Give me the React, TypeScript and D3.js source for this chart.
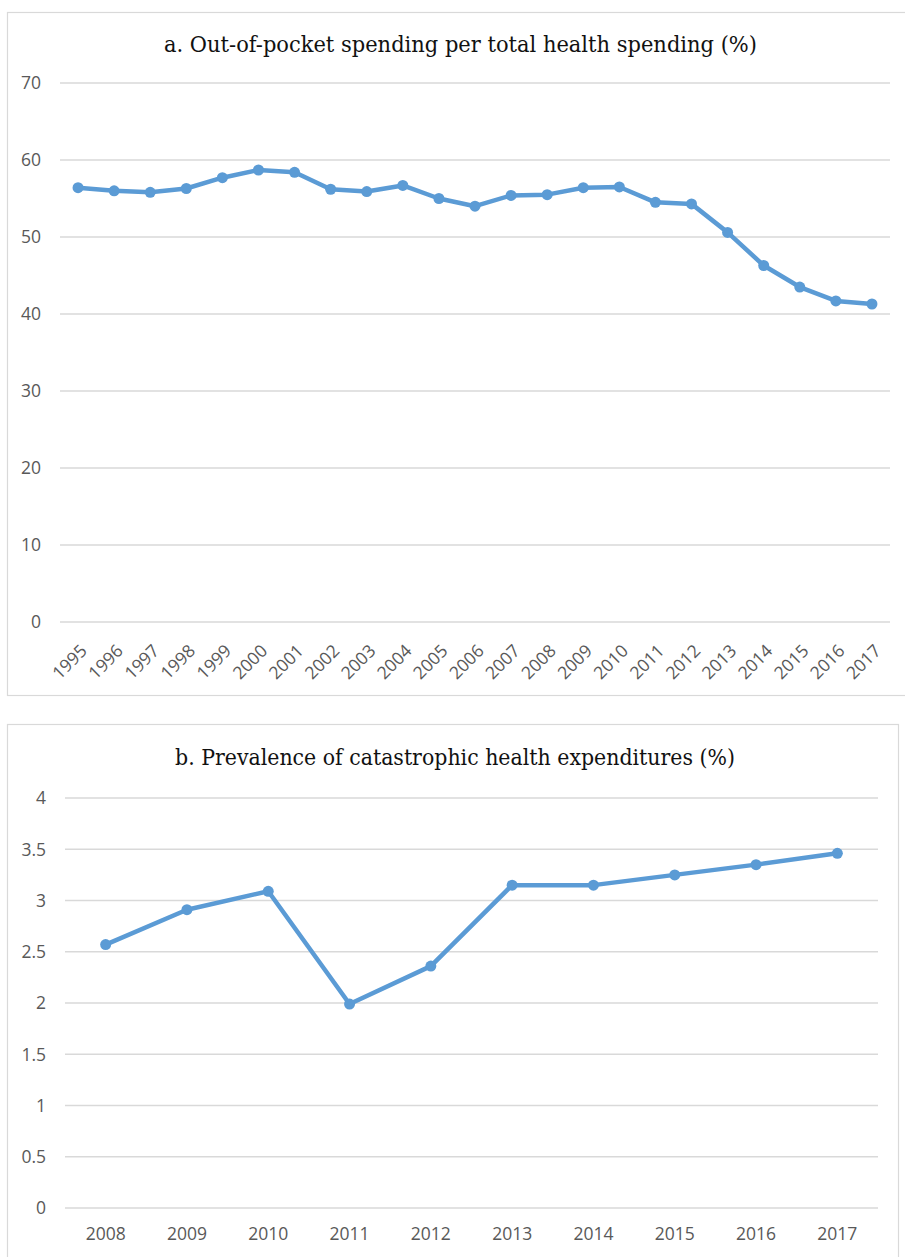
import * as d3 from 'd3'
import { useEffect, useRef } from 'react'

const WIDTH = 905
const HEIGHT = 1257
const LINE_COLOR = '#5b9bd5'
const GRID_COLOR = '#d9d9d9'
const LABEL_COLOR = '#595959'
const AXIS_FONT = '"Open Sans", "Liberation Sans", sans-serif'
const TITLE_FONT = '"DejaVu Serif", "Liberation Serif", serif'

// Panel a: out-of-pocket share of total health spending
const oopYears = [
  '1995', '1996', '1997', '1998', '1999', '2000', '2001', '2002', '2003', '2004', '2005', '2006',
  '2007', '2008', '2009', '2010', '2011', '2012', '2013', '2014', '2015', '2016', '2017',
]
const oopValues = [
  56.4, 56.0, 55.8, 56.3, 57.7, 58.7, 58.4, 56.2, 55.9, 56.7, 55.0, 54.0,
  55.4, 55.5, 56.4, 56.5, 54.5, 54.3, 50.6, 46.3, 43.5, 41.7, 41.3,
]
const oopTicks = [0, 10, 20, 30, 40, 50, 60, 70]

// Panel b: catastrophic health expenditure prevalence
const cheYears = ['2008', '2009', '2010', '2011', '2012', '2013', '2014', '2015', '2016', '2017']
const cheValues = [2.57, 2.91, 3.09, 1.99, 2.36, 3.15, 3.15, 3.25, 3.35, 3.46]
const cheTicks = [0, 0.5, 1, 1.5, 2, 2.5, 3, 3.5, 4]

interface Panel {
  title: string
  titleX: number
  titleWidth: number
  titleY: number
  box: [number, number, number, number]
  plot: { left: number; right: number; top: number; bottom: number }
  years: string[]
  values: number[]
  ticks: number[]
  labelX: number
  rotateLabels: boolean
}

const panels: Panel[] = [
  {
    title: 'a. Out-of-pocket spending per total health spending (%)',
    titleX: 460.5,
    titleWidth: 593,
    titleY: 52,
    box: [7, 12, 910, 695],
    plot: { left: 60, right: 890, top: 83, bottom: 622 },
    years: oopYears,
    values: oopValues,
    ticks: oopTicks,
    labelX: 41,
    rotateLabels: true,
  },
  {
    title: 'b. Prevalence of catastrophic health expenditures (%)',
    titleX: 455,
    titleWidth: 560,
    titleY: 765,
    box: [7, 724, 898, 1270],
    plot: { left: 65, right: 878, top: 798, bottom: 1208 },
    years: cheYears,
    values: cheValues,
    ticks: cheTicks,
    labelX: 46,
    rotateLabels: false,
  },
]

export default function App() {
  const svgRef = useRef<SVGSVGElement>(null)

  useEffect(() => {
    if (!svgRef.current) return
    const svg = d3.select(svgRef.current)
    svg.selectAll('*').remove()

    svg.append('rect')
      .attr('width', WIDTH)
      .attr('height', HEIGHT)
      .attr('fill', 'white')

    for (const p of panels) {
      const g = svg.append('g')
      const [bx0, by0, bx1, by1] = p.box

      g.append('rect')
        .attr('x', bx0 + 0.5)
        .attr('y', by0 + 0.5)
        .attr('width', bx1 - bx0)
        .attr('height', by1 - by0)
        .attr('fill', 'white')
        .attr('stroke', GRID_COLOR)
        .attr('stroke-width', 1.2)

      const x = d3.scaleBand<string>()
        .domain(p.years)
        .range([p.plot.left, p.plot.right])
      const y = d3.scaleLinear()
        .domain([0, d3.max(p.ticks)!])
        .range([p.plot.bottom, p.plot.top])
      const cx = (d: string) => x(d)! + x.bandwidth() / 2

      // Title
      g.append('text')
        .attr('x', p.titleX)
        .attr('y', p.titleY)
        .attr('text-anchor', 'middle')
        .attr('font-family', TITLE_FONT)
        .attr('font-size', 22)
        .attr('fill', '#111')
        .attr('textLength', p.titleWidth)
        .attr('lengthAdjust', 'spacingAndGlyphs')
        .text(p.title)

      // Gridlines + y labels
      g.selectAll('.grid')
        .data(p.ticks)
        .enter()
        .append('line')
        .attr('x1', p.plot.left)
        .attr('x2', p.plot.right)
        .attr('y1', d => y(d))
        .attr('y2', d => y(d))
        .attr('stroke', GRID_COLOR)
        .attr('stroke-width', 1.3)

      g.selectAll('.ylab')
        .data(p.ticks)
        .enter()
        .append('text')
        .attr('x', p.labelX)
        .attr('y', d => y(d))
        .attr('dy', '0.36em')
        .attr('text-anchor', 'end')
        .attr('font-family', AXIS_FONT)
        .attr('font-size', 17.5)
        .attr('fill', LABEL_COLOR)
        .text(d => String(d))

      // X labels
      const xl = g.selectAll('.xlab')
        .data(p.years)
        .enter()
        .append('text')
        .attr('font-family', AXIS_FONT)
        .attr('font-size', 17.5)
        .attr('fill', LABEL_COLOR)
        .text(d => d)
      if (p.rotateLabels) {
        xl.attr('text-anchor', 'end')
          .attr('transform', d => `translate(${cx(d) + 10}, ${p.plot.bottom + 30}) rotate(-45)`)
      } else {
        xl.attr('text-anchor', 'middle')
          .attr('x', d => cx(d))
          .attr('y', p.plot.bottom + 32)
      }

      // Series line
      const line = d3.line<number>()
        .x((_, i) => cx(p.years[i]))
        .y(d => y(d))
      g.append('path')
        .datum(p.values)
        .attr('d', line)
        .attr('fill', 'none')
        .attr('stroke', LINE_COLOR)
        .attr('stroke-width', 4.5)
        .attr('stroke-linejoin', 'round')
        .attr('stroke-linecap', 'round')

      g.selectAll('.pt')
        .data(p.values)
        .enter()
        .append('circle')
        .attr('cx', (_, i) => cx(p.years[i]))
        .attr('cy', d => y(d))
        .attr('r', 5.5)
        .attr('fill', LINE_COLOR)
    }
  }, [])

  return (
    <svg
      ref={svgRef}
      width={WIDTH}
      height={HEIGHT}
      style={{ position: 'absolute', left: 0, top: 0, display: 'block' }}
    />
  )
}
